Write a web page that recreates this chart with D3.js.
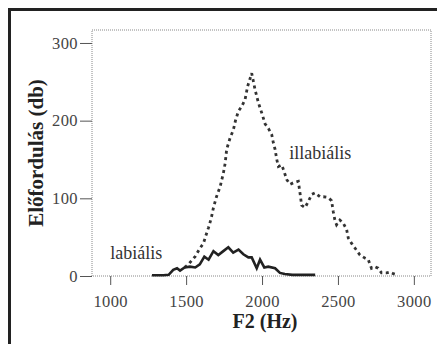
<!DOCTYPE html>
<html>
<head>
<meta charset="utf-8">
<script src="https://cdn.jsdelivr.net/npm/d3@7/dist/d3.min.js"></script>
<style>
html,body{margin:0;padding:0;background:#fff;}
svg{display:block;}
</style>
</head>
<body>
<svg id="chart" width="437" height="344"></svg>
<script>
// ---- data ----
const xTicks = [1000, 1500, 2000, 2500, 3000];
const yTicks = [0, 100, 200, 300];

const labHz  = [1275, 1300, 1350, 1385, 1415, 1440, 1460, 1490, 1525, 1560, 1590, 1620, 1648, 1680, 1712, 1745, 1778, 1810, 1845, 1877, 1910, 1932, 1965, 1987, 2015, 2041, 2086, 2118, 2150, 2200, 2250, 2300, 2350];
const labVal = [1, 1, 1, 1.5, 8, 10, 7, 11, 12, 11, 15, 25, 21, 32, 27, 32, 37, 30, 34, 28, 24, 24, 10, 21, 11, 12, 10, 4, 2.5, 1.5, 1.5, 1.5, 1.5];

const illHz  = [1490, 1515, 1537, 1559, 1592, 1614, 1630, 1647, 1665, 1680, 1700, 1724, 1745, 1757, 1767, 1790, 1811, 1825, 1844, 1865, 1888, 1905, 1932, 1954, 1976, 1998, 2020, 2042, 2064, 2075, 2086, 2097, 2108, 2130, 2141, 2163, 2184, 2206, 2239, 2250, 2261, 2283, 2305, 2327, 2349, 2382, 2404, 2436, 2458, 2469, 2480, 2491, 2513, 2535, 2557, 2568, 2590, 2612, 2645, 2678, 2700, 2721, 2743, 2765, 2787, 2820, 2842, 2864, 2882];
const illVal = [11, 15, 20, 25, 36, 42, 52, 62, 74, 88, 102, 115, 132, 145, 163, 178, 188, 200, 212, 218, 227, 244, 261, 240, 223, 210, 196, 190, 182, 171, 163, 150, 141, 143, 137, 124, 118, 120, 122, 107, 91, 88, 96, 105, 107, 102, 102, 101, 97, 83, 72, 66, 72, 68, 60, 49, 42, 36, 27, 23, 21, 10, 12, 10, 4, 4, 5, 3, 2];

const seriesLabels = [
  {text: "labiális",   hz: 1000, v: 22},
  {text: "illabiális", hz: 2180, v: 150}
];

// ---- layout ----
const svg = d3.select("#chart");
const L = 92, R = 431, T = 30, B = 276;
const x = d3.scaleLinear().domain([880, 3113]).range([L, R]);
const y = d3.scaleLinear().domain([0, 316.7]).range([B, T]);

// outer frame (top + left)
svg.append("path")
  .attr("d", `M9.5,344 L9.5,9.5 L437,9.5`)
  .attr("fill", "none").attr("stroke", "#222").attr("stroke-width", 3);

// plot frame dotted
svg.append("rect")
  .attr("x", L).attr("y", T).attr("width", R - L).attr("height", B - T)
  .attr("fill", "none").attr("stroke", "#888").attr("stroke-width", 1)
  .attr("stroke-dasharray", "1,1");

// axes
const xAxis = d3.axisBottom(x).tickValues(xTicks).tickSize(9).tickPadding(10).tickFormat(d3.format("d"));
const gx = svg.append("g").attr("transform", `translate(0,${B})`).call(xAxis);
gx.select(".domain").remove();
gx.selectAll(".tick line").attr("stroke", "#555");
gx.selectAll(".tick text")
  .attr("font-family", "'Liberation Serif', serif").attr("font-size", 16.5).attr("fill", "#444")
  .attr("letter-spacing", 0.4);

const yAxis = d3.axisLeft(y).tickValues(yTicks).tickSize(12).tickPadding(2).tickFormat(d3.format("d"));
const gy = svg.append("g").attr("transform", `translate(${L},0)`).call(yAxis);
gy.select(".domain").remove();
gy.selectAll(".tick line").attr("stroke", "#555");
gy.selectAll(".tick text")
  .attr("font-family", "'Liberation Serif', serif").attr("font-size", 16.5).attr("fill", "#444")
  .attr("letter-spacing", 0.4);

// lines
const line = d3.line().x(d => x(d[0])).y(d => y(d[1]));

svg.append("path")
  .datum(illHz.map((h, i) => [h, illVal[i]]))
  .attr("d", line)
  .attr("fill", "none").attr("stroke", "#333").attr("stroke-width", 2.8)
  .attr("stroke-dasharray", "3,3.5");

svg.append("path")
  .datum(labHz.map((h, i) => [h, labVal[i]]))
  .attr("d", line)
  .attr("fill", "none").attr("stroke", "#222").attr("stroke-width", 2.6)
  .attr("stroke-linejoin", "miter");

// series labels
svg.selectAll(".slabel").data(seriesLabels).enter().append("text")
  .attr("x", d => x(d.hz)).attr("y", d => y(d.v))
  .attr("font-family", "'Liberation Serif', serif").attr("font-size", 18).attr("fill", "#333")
  .text(d => d.text);

// axis titles
svg.append("text")
  .attr("x", 265).attr("y", 328).attr("text-anchor", "middle")
  .attr("font-family", "'Liberation Serif', serif").attr("font-weight", "bold").attr("font-size", 20)
  .attr("fill", "#222")
  .text("F2 (Hz)");

svg.append("text")
  .attr("transform", `translate(43,${(T + B) / 2}) rotate(-90)`)
  .attr("text-anchor", "middle")
  .attr("font-family", "'Liberation Serif', serif").attr("font-weight", "bold").attr("font-size", 21)
  .attr("fill", "#222")
  .text("Előfordulás (db)");
</script>
</body>
</html>
